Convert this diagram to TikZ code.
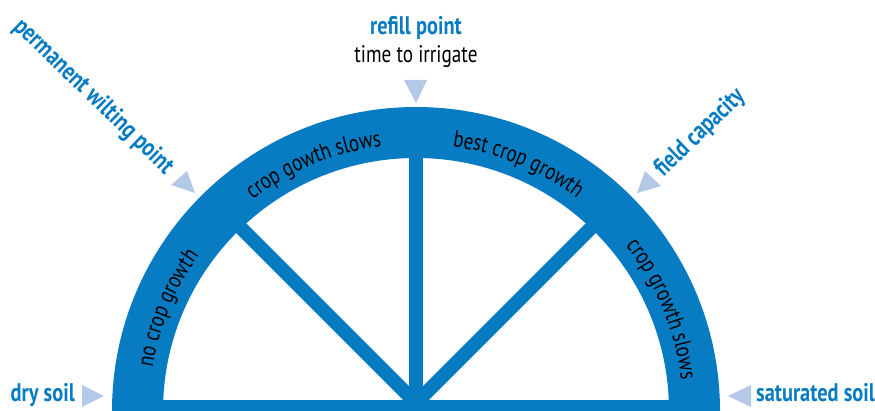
\documentclass[tikz,border=0pt]{standalone}
\usepackage{fontspec}
\newfontfamily\cond{PT Sans}[FakeStretch=0.8]
\usetikzlibrary{decorations.text}
\definecolor{band}{RGB}{8,124,194}
\definecolor{pointer}{RGB}{180,200,232}
\newcommand\bandfont{\cond\fontsize{23.5}{23.5}\selectfont}
\begin{document}
\begin{tikzpicture}[x=1pt,y=1pt,
  lbl/.style={font=\cond\bfseries\fontsize{25.5}{25.5}\selectfont, text=band, inner sep=0pt},
  blk/.style={font=\cond\fontsize{24}{24}\selectfont, text=black, inner sep=0pt},
  ptr/.style={fill=pointer},
  spoke/.style={draw=band, line width=14pt},
  bandtext/.style={decorate, decoration={text along path, text align=center, text={|\bandfont|#1}}}
]
\useasboundingbox (0,0) rectangle (875,411);
\coordinate (C) at (416,0);
% arch band
\fill[band] (720,0) arc[start angle=0,end angle=180,radius=304] -- (163,0) arc[start angle=180,end angle=0,radius=253] -- cycle;
% bottom bar and spokes
\fill[band] (160,0) rectangle (672,11);
\fill[band] (409,0) rectangle (423,258);
\coordinate (hub) at (416,8);
\path[spoke] (hub) -- ++(135:262);
\path[spoke] (hub) -- ++(45:262);
% texts along the band
\path[bandtext={no crop growth}] ([shift={(416,0)}]180:267) arc[start angle=180,end angle=135,radius=267];
\path[bandtext={crop gowth slows}] ([shift={(416,0)}]135:267) arc[start angle=135,end angle=90,radius=267];
\path[bandtext={best crop growth}] ([shift={(416,0)}]90:267) arc[start angle=90,end angle=45,radius=267];
\path[bandtext={crop growth slows}] ([shift={(416,0)}]45:267) arc[start angle=45,end angle=0,radius=267];
% labels
\node[lbl, anchor=base] (refill) at (416,376) {refill point};
\node[blk, anchor=base] (irrigate) at (416,348) {time to irrigate};
\node[lbl, anchor=base east] (dry) at (75,9) {dry soil};
\node[lbl, anchor=base west] (sat) at (756,9) {saturated soil};
\node[lbl, rotate=-44] (pwp) at (93,314) {permanent wilting point};
\node[lbl, rotate=44] (fc) at (700,278) {field capacity};
% pointers
\fill[ptr] (404,331) -- (427,331) -- (416,308) -- cycle;
\fill[ptr] (82,26) -- (82,4) -- (104,15) -- cycle;
\fill[ptr] (751,26) -- (751,4) -- (728,15) -- cycle;
\fill[ptr] (171,226) -- (187,240) -- (195,218) -- cycle;
\fill[ptr] (637,218) -- (645,240) -- (661,225) -- cycle;
\end{tikzpicture}
\end{document}
